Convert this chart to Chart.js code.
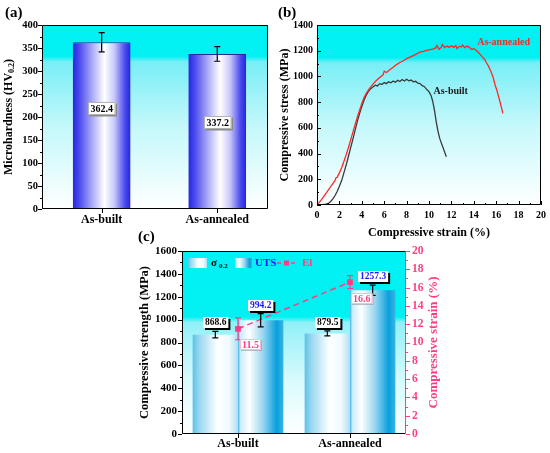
<!DOCTYPE html>
<html><head><meta charset="utf-8">
<script src="https://cdn.jsdelivr.net/npm/chart.js@4.4.1/dist/chart.umd.min.js"></script>
<style>
html,body{margin:0;padding:0;background:#fff;}
body{width:550px;height:453px;position:relative;overflow:hidden;}
canvas{position:absolute;display:block;}
</style></head><body>
<canvas id="ca" width="275" height="230" style="left:0;top:0;width:275px;height:230px"></canvas>
<canvas id="cb" width="275" height="242" style="left:275px;top:0;width:275px;height:242px"></canvas>
<canvas id="cc" width="320" height="225" style="left:130px;top:228px;width:320px;height:225px"></canvas>
<script>
// ---------------- DATA ----------------
// (a) microhardness
const catsA = ['As-built', 'As-annealed'];
const hardness = [362.4, 337.2];
const hardnessErr = [21, 16];

// (b) compressive stress-strain curves
const strainBuilt = [0.2,0.5,0.8,1.0,1.2,1.4,1.6,1.8,2.0,2.2,2.4,2.6,2.8,3.0,3.2,3.4,3.6,3.8,4.0,4.2,4.4,4.6,4.8,5.0,5.2,5.4,5.6,5.8,6.0,6.2,6.4,6.6,6.8,7.0,7.2,7.4,7.6,7.8,8.0,8.2,8.4,8.6,8.8,9.0,9.2,9.4,9.6,9.8,10.0,10.2,10.35,10.5,10.65,10.8,10.95,11.1,11.25,11.4,11.55];
const stressBuilt = [0,2,6,12,25,45,72,105,145,190,250,310,375,445,510,580,650,712,765,815,855,885,905,918,932,926,944,938,952,944,958,950,964,955,970,960,976,964,978,966,972,958,962,948,944,928,920,898,882,848,800,730,645,575,520,482,448,410,375];
const strainAnnealed = [0,0.2,0.4,0.6,0.8,1.0,1.2,1.4,1.6,1.7,1.8,2.0,2.2,2.4,2.6,2.8,3.0,3.2,3.4,3.6,3.8,4.0,4.2,4.4,4.6,4.8,5.0,5.3,5.6,5.9,6.0,6.2,6.5,6.8,7.1,7.4,7.7,8.0,8.3,8.6,8.9,9.2,9.5,9.8,10.1,10.4,10.6,10.7,10.9,11.1,11.2,11.4,11.6,11.8,12.0,12.2,12.4,12.5,12.7,12.9,13.0,13.2,13.4,13.6,13.8,14.0,14.2,14.4,14.6,14.8,15.0,15.1,15.3,15.5,15.7,15.9,16.1,16.3,16.45,16.6];
const stressAnnealed = [0,20,42,66,90,115,140,165,190,212,215,250,290,338,390,445,505,565,625,682,738,790,835,868,895,918,940,968,992,1012,1040,1030,1052,1072,1092,1108,1122,1138,1150,1162,1175,1190,1195,1202,1208,1214,1222,1240,1212,1228,1248,1224,1236,1226,1238,1226,1240,1216,1234,1230,1244,1224,1236,1226,1210,1216,1204,1188,1168,1148,1128,1110,1082,1045,1000,935,880,815,765,712];

// (c) strength and strain
const catsC = ['As-built', 'As-annealed'];
const sigma02 = [868.6, 879.5];
const sigma02Err = [28, 22];
const uts = [994.2, 1257.3];
const utsErr = [58, 45];
const elong = [11.5, 16.6];
const elongErr = [1.2, 0.7];

// ---------------- HELPERS ----------------
const SERIF = '"Liberation Serif","Times New Roman",serif';
Chart.defaults.font.family = SERIF;
Chart.defaults.font.weight = 'bold';
Chart.defaults.color = '#000';
Chart.defaults.animation = false;
const PINK = '#ff3d85';
const BLUE_TXT = '#1a1aff';
const NOGRID = {display: false, drawTicks: false};
const plain = v => String(v);

function lin(ctx, x0, y0, x1, y1, stops) {
  const g = ctx.createLinearGradient(x0, y0, x1, y1);
  stops.forEach(s => g.addColorStop(s[0], s[1]));
  return g;
}
function fillArea(chart, stops) {
  const {ctx, chartArea: a} = chart;
  ctx.save();
  ctx.fillStyle = lin(ctx, 0, a.top, 0, a.bottom, stops);
  ctx.fillRect(a.left, a.top, a.width, a.height);
  ctx.restore();
}
function frame(chart, colors) {
  const {ctx, chartArea: a} = chart;
  const c = Object.assign({top:'#000', right:'#000', bottom:'#000', left:'#000'}, colors || {});
  ctx.save(); ctx.lineWidth = 1;
  const L = Math.round(a.left) + 0.5, R = Math.round(a.right) - 0.5, T = Math.round(a.top) + 0.5, B = Math.round(a.bottom) - 0.5;
  [['top', L, T, R, T], ['bottom', L, B, R, B], ['left', L, T, L, B], ['right', R, T, R, B]].forEach(s => {
    ctx.strokeStyle = c[s[0]]; ctx.beginPath(); ctx.moveTo(s[1], s[2]); ctx.lineTo(s[3], s[4]); ctx.stroke();
  });
  ctx.restore();
}
function tickMarks(chart, scale, opt) {
  const {ctx, chartArea: a} = chart;
  ctx.save(); ctx.strokeStyle = opt.color || '#000'; ctx.lineWidth = 1;
  const majors = scale.ticks.map(t => t.value);
  const out = opt.dir === 'out';
  const draw = (v, len) => {
    const p = Math.round(scale.getPixelForValue(v)) + 0.5;
    ctx.beginPath();
    if (opt.side === 'left') { const e = Math.round(a.left); ctx.moveTo(e, p); ctx.lineTo(e + (out ? -len : len), p); }
    else if (opt.side === 'right') { const e = Math.round(a.right); ctx.moveTo(e, p); ctx.lineTo(e + (out ? len : -len), p); }
    else { const e = Math.round(a.bottom); ctx.moveTo(p, e); ctx.lineTo(p, e + (out ? len : -len)); }
    ctx.stroke();
  };
  majors.forEach(v => draw(v, opt.len || 4));
  if (opt.minor) {
    for (let v = scale.min; v <= scale.max + 1e-9; v += opt.minor) {
      if (!majors.some(m => Math.abs(m - v) < 1e-6)) draw(v, opt.minorLen || 2);
    }
  }
  ctx.restore();
}
function rich(ctx, x, y, parts, rot, color) {
  ctx.save(); ctx.translate(x, y); if (rot) ctx.rotate(rot);
  ctx.textBaseline = 'middle'; ctx.textAlign = 'left';
  let w = 0;
  parts.forEach(p => { ctx.font = p.font; p.w = ctx.measureText(p.t).width; w += p.w; });
  let cx = -w / 2;
  parts.forEach(p => { ctx.font = p.font; ctx.fillStyle = p.c || color || '#000'; ctx.fillText(p.t, cx, p.dy || 0); cx += p.w; });
  ctx.restore();
}
function text(ctx, x, y, t, font, color, align) {
  ctx.save(); ctx.font = font; ctx.fillStyle = color || '#000'; ctx.textAlign = align || 'left'; ctx.textBaseline = 'middle';
  ctx.fillText(t, x, y); ctx.restore();
}
function boxLabel(ctx, cx, cy, t, o) {
  ctx.save(); ctx.font = o.font;
  const w = ctx.measureText(t).width + (o.padX || 4), h = o.h || 11;
  const x = Math.round(cx - w / 2), y = Math.round(cy - h / 2);
  if (o.shadow) { ctx.fillStyle = o.shadow; ctx.fillRect(x + o.off, y + o.off, w, h); }
  ctx.fillStyle = '#fff'; ctx.fillRect(x, y, w, h);
  if (o.border) { ctx.strokeStyle = o.border; ctx.lineWidth = 0.8; ctx.strokeRect(x + 0.5, y + 0.5, w - 1, h - 1); }
  ctx.fillStyle = o.color || '#000'; ctx.textAlign = 'center'; ctx.textBaseline = 'middle';
  ctx.fillText(t, x + w / 2, y + h / 2 + 0.5);
  ctx.restore();
}
function errBar(ctx, x, yScale, v, e, color, cap, lw) {
  const t = yScale.getPixelForValue(v + e), b = yScale.getPixelForValue(v - e);
  ctx.save(); ctx.strokeStyle = color; ctx.lineWidth = lw; ctx.beginPath();
  ctx.moveTo(x, t); ctx.lineTo(x, b);
  ctx.moveTo(x - cap, t); ctx.lineTo(x + cap, t);
  ctx.moveTo(x - cap, b); ctx.lineTo(x + cap, b);
  ctx.stroke(); ctx.restore();
  return t;
}
function applyBarGradients(chart, gradMap) {
  const ctx = chart.ctx;
  Object.keys(gradMap).forEach(di => {
    chart.getDatasetMeta(+di).data.forEach(el => {
      const {x, width} = el.getProps(['x', 'width'], true);
      el.options.backgroundColor = lin(ctx, x - width / 2, 0, x + width / 2, 0, gradMap[di]);
    });
  });
}

const BG_A = [[0, '#00f2f4'], [0.17, '#02f0f2'], [0.2, '#78eef6'], [0.55, '#c4f8fb'], [1, '#ffffff']];
const BG_B = [[0, '#00f2f4'], [0.18, '#02f0f2'], [0.21, '#78eef6'], [0.55, '#c4f8fb'], [1, '#ffffff']];
const BG_C = [[0, '#00f2f4'], [0.36, '#02f0f2'], [0.39, '#90f0f8'], [0.7, '#d8fafc'], [1, '#ffffff']];
const BAR_A = [[0, '#2626e2'], [0.1, '#4646ec'], [0.35, '#b0b0f8'], [0.55, '#ffffff'], [0.72, '#c8c8fa'], [0.9, '#4c4cee'], [1, '#2424e0']];
const BAR_SIG = [[0, '#5cc2e8'], [0.15, '#9ad8f0'], [0.55, '#ffffff'], [0.8, '#f0fafd'], [1, '#b0e0f4']];
const BAR_UTS = [[0, '#40b4e4'], [0.05, '#c8ecfa'], [0.25, '#ffffff'], [0.55, '#9ad6f0'], [0.85, '#08a0dc'], [1, '#38b4e4']];

// ---------------- (a) ----------------
new Chart(document.getElementById('ca'), {
  type: 'bar',
  data: {
    datasets: [{
      data: hardness.map((v, i) => ({x: i, y: v})),
      backgroundColor: () => '#8080f0',
      borderColor: '#2a2a9a',
      borderWidth: {top: 1, left: 0, right: 0, bottom: 0},
      borderSkipped: 'bottom',
      categoryPercentage: 0.5,
      barPercentage: 1.0
    }]
  },
  options: {
    responsive: false,
    layout: {padding: {top: 25, right: 7, left: 0, bottom: 0}},
    plugins: {legend: {display: false}, tooltip: {enabled: false}},
    scales: {
      x: {
        type: 'linear', min: -0.516, max: 1.439, offset: false,
        afterBuildTicks: s => { s.ticks = catsA.map((c, i) => ({value: i})); },
        ticks: {callback: v => catsA[v], font: {size: 12, weight: 'bold'}, padding: 4, maxRotation: 0, autoSkip: false},
        grid: NOGRID, border: {display: false},
        afterFit: s => { s.height = 21; }
      },
      y: {
        min: 0, max: 400,
        ticks: {stepSize: 50, font: {size: 10.5, weight: 'bold'}, padding: 4, callback: plain},
        grid: NOGRID, border: {display: false},
        afterFit: s => { s.width = 42; }
      }
    }
  },
  plugins: [{
    id: 'pa',
    beforeDraw(chart) { fillArea(chart, BG_A); },
    beforeDatasetsDraw(chart) { applyBarGradients(chart, {0: BAR_A}); },
    afterDatasetsDraw(chart) {
      const ctx = chart.ctx, ys = chart.scales.y;
      const meta = chart.getDatasetMeta(0);
      const frac = [0.6, 0.556];
      meta.data.forEach((el, i) => {
        errBar(ctx, el.x, ys, hardness[i], hardnessErr[i], '#000', 3, 1.2);
        boxLabel(ctx, el.x, ys.getPixelForValue(hardness[i] * frac[i]), hardness[i].toFixed(1),
          {font: 'bold 10px ' + SERIF, h: 13, padX: 5, shadow: '#8a8a8a', off: 1.5, border: '#a0a0a0', color: '#000'});
      });
    },
    afterDraw(chart) {
      const ctx = chart.ctx, a = chart.chartArea;
      frame(chart);
      tickMarks(chart, chart.scales.y, {side: 'left', dir: 'out', minor: 25, len: 4, minorLen: 2});
      tickMarks(chart, chart.scales.x, {side: 'bottom', dir: 'out', len: 4});
      rich(ctx, 9, (a.top + a.bottom) / 2, [
        {t: 'Microhardness (HV', font: 'bold 12px ' + SERIF},
        {t: '0.2', font: 'bold 8px ' + SERIF, dy: 3},
        {t: ')', font: 'bold 12px ' + SERIF}
      ], -Math.PI / 2);
      text(ctx, 5, 13, '(a)', 'bold 15px ' + SERIF);
    }
  }]
});

// ---------------- (b) ----------------
new Chart(document.getElementById('cb'), {
  type: 'line',
  data: {
    datasets: [
      {data: strainAnnealed.map((x, i) => ({x, y: stressAnnealed[i]})), borderColor: '#ff2626', borderWidth: 1.3, pointRadius: 0, tension: 0},
      {data: strainBuilt.map((x, i) => ({x, y: stressBuilt[i]})), borderColor: '#3a3a3a', borderWidth: 1.3, pointRadius: 0, tension: 0}
    ]
  },
  options: {
    responsive: false,
    layout: {padding: {top: 25, right: 8, left: 0, bottom: 0}},
    plugins: {legend: {display: false}, tooltip: {enabled: false}},
    scales: {
      x: {
        type: 'linear', min: 0, max: 20,
        ticks: {stepSize: 2, font: {size: 10, weight: 'bold'}, padding: 4, maxRotation: 0, callback: plain},
        grid: NOGRID, border: {display: false},
        afterFit: s => { s.height = 37; }
      },
      y: {
        min: 0, max: 1400,
        ticks: {stepSize: 200, font: {size: 10, weight: 'bold'}, padding: 4, callback: plain},
        grid: NOGRID, border: {display: false},
        afterFit: s => { s.width = 42; }
      }
    }
  },
  plugins: [{
    id: 'pb',
    beforeDraw(chart) { fillArea(chart, BG_B); },
    afterDraw(chart) {
      const ctx = chart.ctx, a = chart.chartArea, xs = chart.scales.x, ys = chart.scales.y;
      frame(chart);
      tickMarks(chart, ys, {side: 'left', dir: 'in', minor: 100, len: 4, minorLen: 2});
      tickMarks(chart, xs, {side: 'bottom', dir: 'in', minor: 1, len: 4, minorLen: 2});
      text(ctx, xs.getPixelForValue(14.3), ys.getPixelForValue(1262), 'As-annealed', 'bold 10px ' + SERIF, '#ff2626');
      text(ctx, xs.getPixelForValue(10.4), ys.getPixelForValue(887), 'As-built', 'bold 10px ' + SERIF, '#1a1a1a');
      text(ctx, (a.left + a.right) / 2, 233, 'Compressive strain (%)', 'bold 12px ' + SERIF, '#000', 'center');
      rich(ctx, 10, (a.top + a.bottom) / 2, [{t: 'Compressive stress (MPa)', font: 'bold 12px ' + SERIF}], -Math.PI / 2);
      text(ctx, 3, 13, '(b)', 'bold 15px ' + SERIF);
    }
  }]
});

// ---------------- (c) ----------------
new Chart(document.getElementById('cc'), {
  data: {
    labels: catsC,
    datasets: [
      {type: 'line', data: elong, yAxisID: 'y1', order: 0, borderColor: PINK, borderWidth: 1.5, borderDash: [6, 4],
       pointStyle: 'rect', pointRadius: 3, pointBackgroundColor: PINK, pointBorderColor: PINK, tension: 0},
      {type: 'bar', data: sigma02, yAxisID: 'y', order: 1, backgroundColor: () => '#a0e0f4', borderWidth: 0,
       categoryPercentage: 0.81, barPercentage: 1.0},
      {type: 'bar', data: uts, yAxisID: 'y', order: 1, backgroundColor: () => '#40b4e4', borderWidth: 0,
       categoryPercentage: 0.81, barPercentage: 1.0}
    ]
  },
  options: {
    responsive: false,
    layout: {padding: {top: 23, right: 0, left: 0, bottom: 0}},
    plugins: {legend: {display: false}, tooltip: {enabled: false}},
    scales: {
      x: {
        type: 'category',
        ticks: {font: {size: 12, weight: 'bold'}, padding: 3, maxRotation: 0},
        grid: NOGRID, border: {display: false},
        afterFit: s => { s.height = 19; }
      },
      y: {
        position: 'left', min: 0, max: 1600,
        ticks: {stepSize: 200, font: {size: 11, weight: 'bold'}, padding: 5, callback: plain},
        grid: NOGRID, border: {display: false},
        afterFit: s => { s.width = 52; }
      },
      y1: {
        position: 'right', min: 0, max: 20,
        ticks: {stepSize: 2, font: {size: 11.5, weight: 'bold'}, padding: 6, color: PINK, callback: plain},
        grid: NOGRID, border: {display: false},
        afterFit: s => { s.width = 44; }
      }
    }
  },
  plugins: [{
    id: 'pc',
    beforeDraw(chart) { fillArea(chart, BG_C); },
    beforeDatasetsDraw(chart) { applyBarGradients(chart, {1: BAR_SIG, 2: BAR_UTS}); },
    afterDatasetsDraw(chart) {
      const ctx = chart.ctx, ys = chart.scales.y, y1 = chart.scales.y1;
      const lf = 'bold 9.5px ' + SERIF;
      const series = [[1, sigma02, sigma02Err, '#000'], [2, uts, utsErr, BLUE_TXT]];
      series.forEach(([di, vals, errs, col]) => {
        chart.getDatasetMeta(di).data.forEach((el, i) => {
          const t = errBar(ctx, el.x, ys, vals[i], errs[i], '#000', 3, 1.2);
          boxLabel(ctx, el.x, t - 8.5, vals[i].toFixed(1), {font: lf, h: 11, padX: 4, shadow: '#000', off: 2, color: col});
        });
      });
      chart.getDatasetMeta(0).data.forEach((el, i) => {
        errBar(ctx, el.x, y1, elong[i], elongErr[i], PINK, 3, 1.2);
        boxLabel(ctx, el.x + 12, el.y + 16, elong[i].toFixed(1), {font: 'bold 10px ' + SERIF, h: 11, padX: 4, shadow: 'rgba(150,150,150,0.6)', off: 1, border: '#f0b0c8', color: PINK});
      });
    },
    afterDraw(chart) {
      const ctx = chart.ctx, a = chart.chartArea;
      frame(chart, {right: PINK});
      tickMarks(chart, chart.scales.y, {side: 'left', dir: 'out', minor: 100, len: 4, minorLen: 2});
      tickMarks(chart, chart.scales.y1, {side: 'right', dir: 'out', minor: 1, len: 4, minorLen: 2, color: PINK});
      tickMarks(chart, chart.scales.x, {side: 'bottom', dir: 'out', len: 4});
      rich(ctx, 15, (a.top + a.bottom) / 2, [{t: 'Compressive strength (MPa)', font: 'bold 12.5px ' + SERIF}], -Math.PI / 2);
      rich(ctx, 304, (a.top + a.bottom) / 2, [{t: 'Compressive strain (%)', font: 'bold 13px ' + SERIF, c: PINK}], -Math.PI / 2);
      text(ctx, 8, 9, '(c)', 'bold 15px ' + SERIF);
      // legend
      const lx = a.left, ly = a.top;
      ctx.save();
      ctx.fillStyle = lin(ctx, lx + 6, 0, lx + 25, 0, BAR_SIG); ctx.fillRect(lx + 6, ly + 7, 19, 10);
      ctx.fillStyle = lin(ctx, lx + 53, 0, lx + 70, 0, BAR_UTS); ctx.fillRect(lx + 53, ly + 7, 17, 10);
      ctx.strokeStyle = PINK; ctx.lineWidth = 1.5; ctx.setLineDash([4, 3]);
      ctx.beginPath(); ctx.moveTo(lx + 95, ly + 12); ctx.lineTo(lx + 115, ly + 12); ctx.stroke();
      ctx.setLineDash([]); ctx.fillStyle = PINK; ctx.fillRect(lx + 102, ly + 9.5, 5, 5);
      ctx.restore();
      text(ctx, lx + 29, ly + 12, 'σ', 'bold 11px ' + SERIF, '#000');
      text(ctx, lx + 37, ly + 15, '0.2', 'bold 7px ' + SERIF, '#000');
      text(ctx, lx + 73, ly + 12, 'UTS', 'bold 11px ' + SERIF, BLUE_TXT);
      text(ctx, lx + 120, ly + 12, 'El', 'bold 11px ' + SERIF, PINK);
    }
  }]
});
</script>
</body></html>
